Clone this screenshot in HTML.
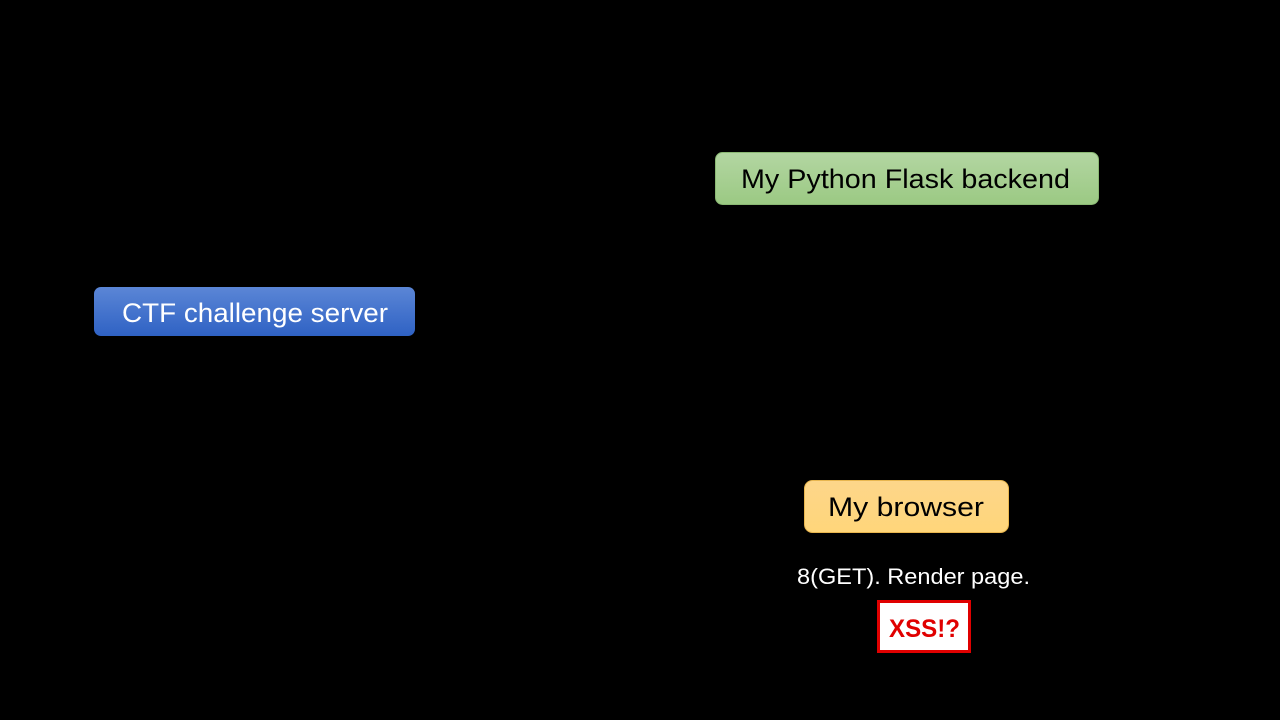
<!DOCTYPE html>
<html><head><meta charset="utf-8"><style>
html,body{margin:0;padding:0;background:#000;width:1280px;height:720px;overflow:hidden}
svg{display:block}
text{font-family:"Liberation Sans",sans-serif}
</style></head><body>
<svg width="1280" height="720" viewBox="0 0 1280 720" xmlns="http://www.w3.org/2000/svg">
<defs>
<linearGradient id="g" x1="0" y1="0" x2="0" y2="1"><stop offset="0" stop-color="#b3d6a2"/><stop offset="1" stop-color="#9bc983"/></linearGradient>
<linearGradient id="b" x1="0" y1="0" x2="0" y2="1"><stop offset="0" stop-color="#5b86d6"/><stop offset="1" stop-color="#2f62c4"/></linearGradient>
<linearGradient id="y" x1="0" y1="0" x2="0" y2="1"><stop offset="0" stop-color="#fdd68a"/><stop offset="1" stop-color="#ffd67a"/></linearGradient>
</defs>
<rect width="1280" height="720" fill="#000"/>
<rect x="715.5" y="152.5" width="383" height="52" rx="7" fill="url(#g)" stroke="#8ab873"/>
<text x="741" y="188" font-size="27" fill="#000" textLength="329" lengthAdjust="spacingAndGlyphs">My Python Flask backend</text>
<rect x="94" y="287" width="321" height="49" rx="7" fill="url(#b)"/>
<text x="122" y="322" font-size="27" fill="#fff" textLength="266" lengthAdjust="spacingAndGlyphs">CTF challenge server</text>
<rect x="804.5" y="480.5" width="204" height="52" rx="8" fill="url(#y)" stroke="#e8b64f"/>
<text x="828" y="516" font-size="27" fill="#000" textLength="156" lengthAdjust="spacingAndGlyphs">My browser</text>
<text x="797" y="584" font-size="22" fill="#fff" textLength="233" lengthAdjust="spacingAndGlyphs">8(GET). Render page.</text>
<rect x="878.5" y="601.5" width="91" height="50" fill="#fff" stroke="#e00000" stroke-width="3"/>
<text x="889" y="637" font-size="25" font-weight="bold" fill="#e00000" textLength="71" lengthAdjust="spacingAndGlyphs">XSS!?</text>
</svg>
</body></html>
